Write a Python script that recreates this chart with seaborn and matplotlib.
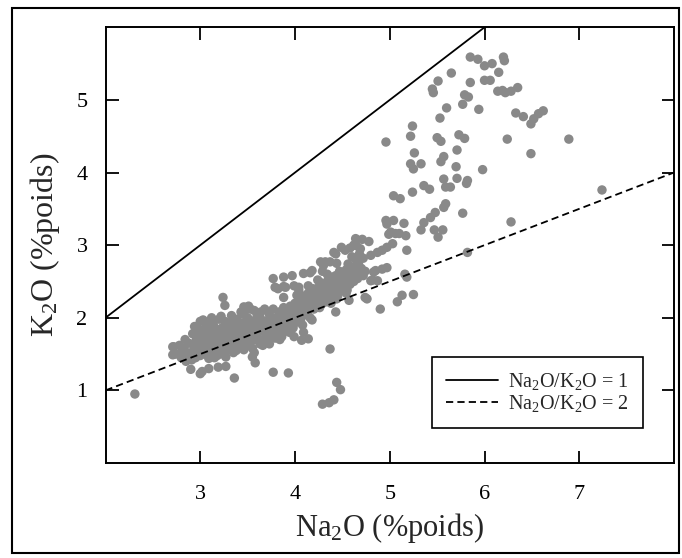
import numpy as np
import pandas as pd
import matplotlib
matplotlib.use("Agg")
import matplotlib.pyplot as plt
from matplotlib.patches import Rectangle
from matplotlib.lines import Line2D
import seaborn as sns

# ---------------- data ----------------
# dense central cluster
na2o_core = [2.72,2.74,2.78,2.80,2.82,2.84,2.86,2.88,2.85,2.83,
             2.90,2.92,2.93,2.95,2.96,2.97,2.98,2.99,3.00,2.91,2.94,2.97,3.00,
             3.01,3.02,3.03,3.04,3.05,3.06,3.07,3.08,3.09,3.10,3.03,3.06,3.08,3.10,3.05,
             3.11,3.12,3.13,3.14,3.15,3.16,3.17,3.18,3.19,3.20,3.12,3.15,3.18,3.20,3.14,3.17,
             3.21,3.22,3.23,3.24,3.25,3.26,3.27,3.28,3.29,3.30,3.22,3.25,3.27,3.30,3.24,3.28,
             3.31,3.32,3.33,3.34,3.35,3.36,3.37,3.38,3.39,3.40,3.33,3.36,3.38,3.40,3.35,
             3.41,3.42,3.43,3.44,3.45,3.46,3.47,3.48,3.49,3.50,3.43,3.46,3.48,3.50,
             3.51,3.52,3.53,3.54,3.55,3.56,3.57,3.58,3.59,3.60,3.53,3.57,3.60,3.55,
             3.61,3.62,3.63,3.64,3.65,3.66,3.67,3.68,3.69,3.70,3.63,3.66,3.69,
             3.71,3.72,3.73,3.74,3.75,3.76,3.77,3.78,3.79,3.80,3.73,3.77,3.80,
             3.81,3.82,3.83,3.84,3.85,3.86,3.87,3.88,3.89,3.90,3.84,3.88,
             3.91,3.92,3.93,3.94,3.95,3.96,3.97,3.98,3.99,4.00,3.94,3.98,
             4.01,4.02,4.03,4.04,4.05,4.06,4.07,4.08,4.09,4.10,4.04,4.08,4.10,
             4.11,4.12,4.13,4.14,4.15,4.16,4.17,4.18,4.19,4.20,4.14,4.18,
             4.21,4.22,4.23,4.24,4.25,4.26,4.27,4.28,4.29,4.30,4.24,4.28,
             4.31,4.32,4.33,4.34,4.35,4.36,4.37,4.38,4.39,4.40,4.34,4.38,
             4.41,4.42,4.43,4.44,4.45,4.46,4.47,4.48,4.49,4.50,4.44,4.48,
             4.51,4.52,4.53,4.54,4.55,4.56,4.57,4.58,4.59,4.60,4.54,
             4.61,4.62,4.63,4.64,4.65,4.66,4.67,4.68,4.70,4.72,4.74]
k2o_core = [1.60,1.50,1.62,1.45,1.55,1.70,1.48,1.65,1.40,1.58,
            1.52,1.78,1.62,1.45,1.70,1.86,1.55,1.64,1.95,1.42,1.88,1.75,1.48,
            1.58,1.72,1.83,1.65,1.50,1.92,1.60,1.78,1.44,1.68,1.97,1.55,1.88,1.80,1.74,
            1.52,1.62,1.75,1.90,1.58,1.70,1.84,1.48,1.66,1.98,2.00,1.45,1.76,1.56,1.82,1.64,
            1.72,1.60,1.86,1.50,1.68,1.95,1.78,1.56,1.88,1.66,2.02,1.80,1.46,1.74,1.62,1.92,
            1.82,1.58,1.70,1.94,1.52,1.76,1.64,1.88,1.98,1.70,2.03,1.84,1.55,1.62,1.90,
            1.78,1.92,1.60,1.84,1.70,2.05,1.66,1.95,1.80,1.72,2.08,1.56,1.86,2.00,
            1.88,1.64,1.96,1.76,1.58,1.84,2.10,1.70,1.92,1.80,2.12,1.52,2.02,1.46,
            1.72,1.90,1.64,2.08,1.82,1.96,1.70,2.12,1.86,1.78,2.00,1.62,1.94,
            1.92,1.70,2.04,1.84,1.98,1.76,2.12,1.88,1.72,2.00,1.64,1.80,1.86,
            1.94,1.78,2.08,1.86,2.00,1.74,1.90,2.14,1.82,2.04,1.70,1.96,
            1.90,2.08,1.84,2.00,2.16,1.94,2.10,1.86,2.04,2.20,1.80,1.98,
            2.02,1.94,2.12,2.26,2.06,1.98,2.18,2.10,2.30,2.04,2.38,1.90,2.22,
            2.14,2.26,2.06,2.34,2.18,2.00,2.28,2.22,2.40,2.12,2.44,2.32,
            2.26,2.18,2.36,2.30,2.42,2.14,2.28,2.48,2.20,2.36,2.52,2.40,
            2.30,2.44,2.22,2.38,2.52,2.28,2.46,2.34,2.56,2.40,2.60,2.20,
            2.46,2.36,2.58,2.42,2.30,2.52,2.64,2.38,2.48,2.56,2.26,2.60,
            2.44,2.58,2.50,2.66,2.38,2.54,2.62,2.46,2.68,2.56,2.34,
            2.62,2.50,2.70,2.58,2.66,2.54,2.74,2.62,2.68,2.58,2.64]

# chain between cluster and upper cloud
na2o_mid = [4.41,4.49,4.53,4.43,4.58,4.62,4.64,4.71,4.78,4.65,
            4.69,4.65,4.72,4.80,4.87,4.92,4.97,5.03,4.85,4.92,
            4.87,4.83,4.97,4.27,4.32,4.37,4.44,4.18,4.29,4.09,
            4.16,4.30,4.60,4.56,4.68]
k2o_mid = [2.90,2.97,2.93,2.88,2.96,3.00,3.09,3.08,3.05,2.99,
           2.95,2.78,2.82,2.86,2.90,2.93,2.97,3.02,2.65,2.67,
           2.51,2.63,2.69,2.77,2.77,2.77,2.75,2.65,2.64,2.61,
           2.62,2.72,2.84,2.74,2.88]

# upper sparse cloud
na2o_hi = [5.85,5.93,6.00,6.08,6.20,6.21,5.65,6.15,6.00,6.06,
           5.85,5.51,5.45,5.46,6.14,6.19,6.22,6.28,6.35,5.79,
           5.83,5.77,5.60,5.94,6.33,6.41,6.49,6.52,6.57,6.62,
           5.53,5.24,5.22,4.96,5.50,5.54,5.73,5.79,6.24,6.89,
           5.71,5.26,6.49,5.57,5.54,5.22,5.33,5.25,5.70,5.98,
           5.57,5.71,5.82,5.81,5.36,5.42,5.59,5.64,7.24,5.24,
           5.11,5.04,5.57,5.59,5.77,5.48,5.43,5.36,6.28,5.33,
           5.47,5.56,5.51,4.96,5.04,5.15,5.01,5.06,5.10,5.17,
           4.97,4.99,5.18,5.82]
k2o_hi = [5.59,5.56,5.47,5.50,5.59,5.54,5.37,5.38,5.27,5.27,
          5.24,5.26,5.15,5.10,5.12,5.13,5.10,5.12,5.17,5.07,
          5.04,4.94,4.89,4.87,4.82,4.77,4.67,4.74,4.81,4.85,
          4.75,4.64,4.50,4.42,4.48,4.43,4.52,4.47,4.46,4.46,
          4.31,4.27,4.26,4.22,4.15,4.12,4.12,4.05,4.08,4.04,
          3.91,3.92,3.89,3.85,3.82,3.77,3.80,3.80,3.76,3.73,
          3.64,3.68,3.52,3.57,3.44,3.45,3.38,3.31,3.32,3.21,
          3.21,3.21,3.11,3.34,3.34,3.30,3.18,3.16,3.16,3.13,
          3.29,3.15,2.93,2.90]

# scattered points around / below the cluster
na2o_lo = [2.31,3.36,3.77,3.93,4.37,4.44,4.48,4.29,4.36,4.41,
           3.00,3.02,2.90,3.09,3.19,3.27,3.58,2.71,2.71,2.81,
           4.07,4.14,3.99,4.09,4.18,3.24,3.26,3.46,3.51,3.77,
           3.82,3.88,3.97,3.88,3.79,3.90,3.99,4.04,3.88,4.02,
           4.74,4.76,4.57,4.90,5.08,5.13,5.25,5.18,5.16,4.43,
           4.80,4.82]
k2o_lo = [0.95,1.17,1.25,1.24,1.57,1.11,1.01,0.81,0.83,0.87,
          1.23,1.26,1.29,1.30,1.32,1.33,1.38,1.60,1.49,1.56,
          1.69,1.71,1.74,1.80,1.97,2.28,2.17,2.15,2.16,2.54,
          2.40,2.56,2.58,2.43,2.42,2.42,2.44,2.42,2.28,2.31,
          2.28,2.26,2.24,2.12,2.22,2.31,2.32,2.56,2.60,2.08,
          2.51,2.52]

ratios = [1, 2]
ratio_labels = [r"Na$_2$O/K$_2$O = 1", r"Na$_2$O/K$_2$O = 2"]
x_ticks = [3, 4, 5, 6, 7]
y_ticks = [1, 2, 3, 4, 5]

# ---------------- style ----------------
sns.set_style("ticks")
plt.rcParams["font.family"] = ["Liberation Serif", "DejaVu Serif"]
plt.rcParams["mathtext.fontset"] = "custom"
plt.rcParams["mathtext.rm"] = "Liberation Serif"
plt.rcParams["mathtext.it"] = "Liberation Serif:italic"
plt.rcParams["mathtext.bf"] = "Liberation Serif:bold"

df = pd.concat([
    pd.DataFrame({"Na2O": na2o_core, "K2O": k2o_core}),
    pd.DataFrame({"Na2O": na2o_mid, "K2O": k2o_mid}),
    pd.DataFrame({"Na2O": na2o_hi, "K2O": k2o_hi}),
    pd.DataFrame({"Na2O": na2o_lo, "K2O": k2o_lo}),
], ignore_index=True)

W, H = 682, 558
fig = plt.figure(figsize=(W / 100, H / 100), dpi=100)
ax = fig.add_axes([105.5 / W, (H - 463) / H, (674 - 105.5) / W, (463 - 27.3) / H])

sns.scatterplot(data=df, x="Na2O", y="K2O", ax=ax, color="#898989",
                s=46, edgecolor="none", linewidth=0, zorder=2)

xlim = (2, 8)
xr = np.array(xlim, dtype=float)
dash_styles = [None, (4, 2.3)]
handles = []
for r, dsh in zip(ratios, dash_styles):
    sns.lineplot(x=xr, y=xr / r, ax=ax, color="black", lw=1.3, zorder=3)
    line = ax.lines[-1]
    h = Line2D([], [], color="black", lw=1.3)
    if dsh is not None:
        line.set_dashes(dsh)
        h.set_dashes(dsh)
    handles.append(h)

ax.set_xlim(*xlim)
ax.set_ylim(0, 6)
ax.set_xticks(x_ticks)
ax.set_yticks(y_ticks)
ax.tick_params(direction="in", length=9, width=1.3, top=True, right=True,
               labelsize=16, colors="black")
ax.tick_params(axis="x", pad=16)
ax.tick_params(axis="y", pad=13)
for sp in ax.spines.values():
    sp.set_visible(True)
    sp.set_linewidth(1.4)
    sp.set_color("black")

ax.set_xlabel(r"Na$_2$O (%poids)", fontsize=22, labelpad=5)
ax.set_ylabel(r"K$_2$O (%poids)", fontsize=23, labelpad=10)

leg = ax.legend(handles, ratio_labels, loc="lower left",
                bbox_to_anchor=(0.574, 0.08), fontsize=14.5, frameon=True,
                fancybox=False, edgecolor="black", framealpha=1,
                handlelength=2.6, handletextpad=0.5, labelspacing=0.05,
                borderpad=0.7, borderaxespad=0)
leg.get_frame().set_linewidth(1.2)

# outer frame around the whole figure
fig.patches.append(Rectangle((12 / W, 1 - 553 / H), (679 - 12) / W, (553 - 8) / H,
                             transform=fig.transFigure, fill=False,
                             edgecolor="black", linewidth=1.5))

fig.savefig("out.png", dpi=100)
